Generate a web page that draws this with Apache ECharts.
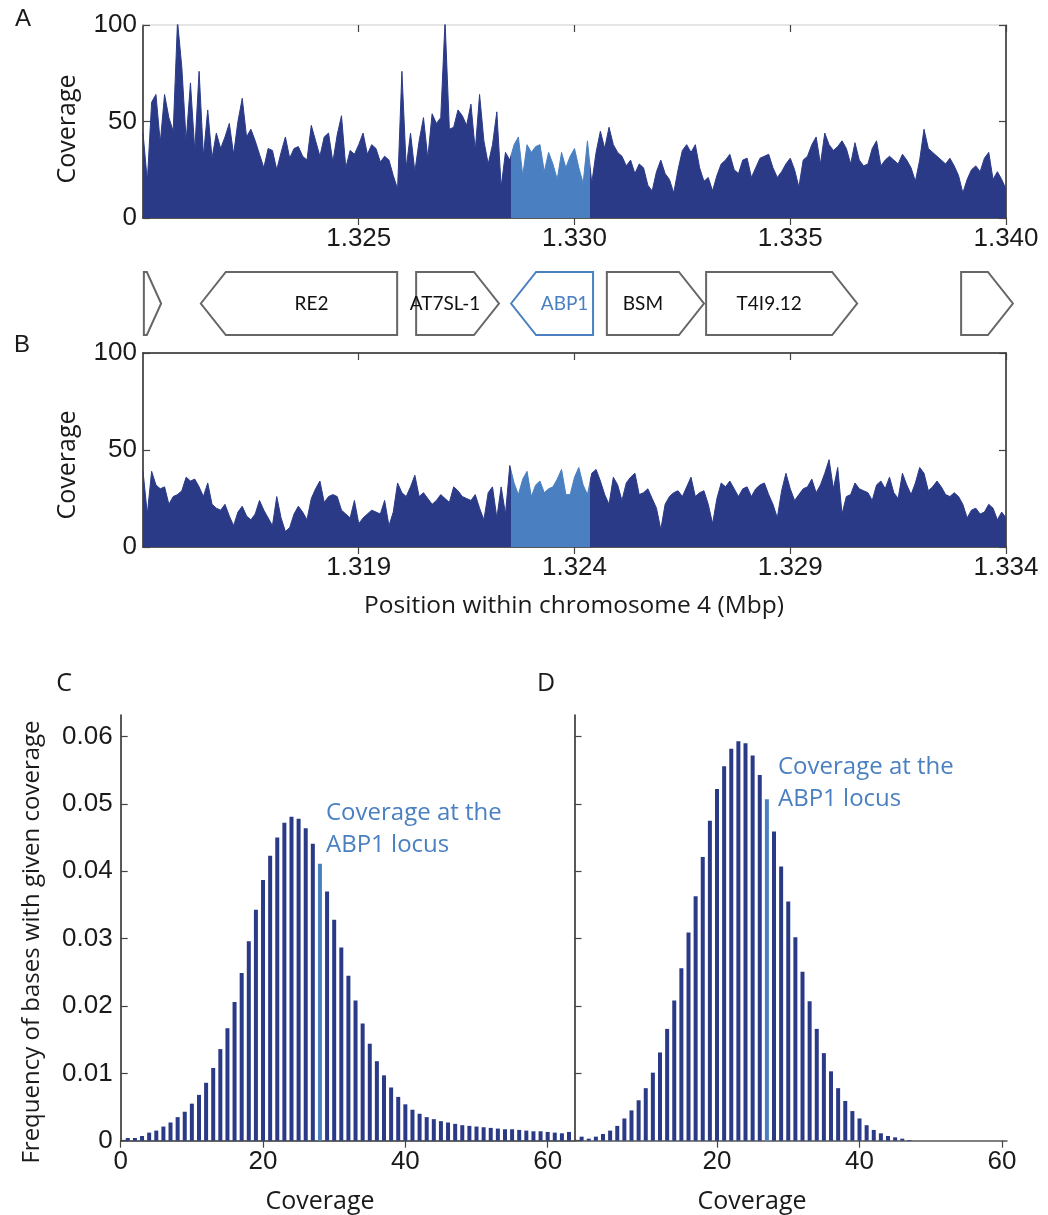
<!DOCTYPE html>
<html>
<head>
<meta charset="utf-8">
<title>ABP1 coverage</title>
<script src="https://cdn.jsdelivr.net/npm/echarts@6/dist/echarts.min.js"></script>
<style>
html,body{margin:0;padding:0;background:#fff}
#main{width:1048px;height:1215px}
</style>
</head>
<body>
<div id="main"></div>
<script>
// ---- data ----
// A: coverage along chr4 1.320-1.340 Mbp, one reading every 100 bp
var startA = 1.320, stepA = 0.0001;
var covA = [44,19,60,64,39,64,52,45,102,78,
  40,70,35,76,32,56,31,44,36,42,
  49,33,50,62,42,46,40,33,26,36,
  35,25,34,42,31,36,37,32,30,48,
  40,32,42,44,29,43,53,26,35,33,
  38,44,33,38,36,29,32,30,22,15,
  76,26,44,24,40,52,31,54,49,52,
  102,46,47,56,53,48,59,35,64,40,
  28,38,55,16,34,30,38,42,22,38,
  34,37,38,24,34,28,20,34,26,32,
  36,26,18,40,18,34,45,36,47,38,
  34,32,27,30,23,28,26,17,14,24,
  30,23,20,13,25,35,38,34,38,26,
  19,21,14,22,28,30,33,25,23,30,
  31,21,26,31,32,33,26,21,24,28,
  31,25,16,30,32,38,42,28,44,38,
  35,37,40,36,28,39,30,27,28,36,
  40,27,30,32,30,28,33,30,26,19,
  30,46,36,34,32,30,28,31,27,22,
  13,20,25,27,24,31,34,20,24,20,15];
// B: same locus, other alignment, 1.314-1.334 Mbp
var startB = 1.314, stepB = 0.0001;
var covB = [39,17,39,32,30,31,22,26,27,29,
  36,34,35,31,26,33,22,20,19,22,
  16,11,18,21,16,14,17,24,19,15,
  11,26,15,8,10,17,21,18,14,25,
  30,34,23,26,27,26,19,17,15,24,
  12,15,17,19,18,17,24,11,18,33,
  28,26,31,37,26,28,25,22,24,27,
  25,23,31,29,26,25,24,27,20,14,
  28,31,15,31,17,42,33,27,35,39,
  26,32,34,28,30,31,35,40,27,27,
  36,41,32,27,38,40,34,27,22,36,
  32,24,33,36,38,27,28,30,25,20,
  9,22,26,28,29,26,31,36,26,28,
  29,22,12,25,33,31,34,30,26,30,
  31,26,30,32,33,27,22,15,29,38,
  30,24,27,30,31,35,28,32,38,45,
  30,41,17,26,27,33,30,29,28,24,
  32,34,30,36,28,25,38,32,27,33,
  41,38,29,31,34,31,27,26,28,26,
  22,15,19,20,17,18,22,20,14,18,15];
// ABP1 locus in each coordinate frame (Mbp)
var abpA = [1.32853, 1.33036];
var abpB = [1.32253, 1.32436];
var ticksA = [1.325, 1.330, 1.335, 1.340];
var ticksB = [1.319, 1.324, 1.329, 1.334];

// gene track (frame of panel A)
var geneNames  = ['', 'RE2', 'AT7SL-1', 'ABP1', 'BSM', 'T4I9.12', ''];
var geneStart  = [1.32002, 1.32134, 1.32633, 1.32853, 1.33075, 1.33305, 1.33896];
var geneEnd    = [1.32042, 1.32589, 1.32825, 1.33043, 1.33300, 1.33655, 1.34016];
var geneStrand = [1, -1, 1, -1, 1, 1, 1];

// C, D: frequency of bases with coverage 1,2,3...
var freqC = [0.0004,0.0004,0.0007,0.0012,0.0015,0.0021,0.0027,0.0035,0.0043,0.0055,
  0.0068,0.0086,0.0108,0.0136,0.0167,0.0206,0.0249,0.0296,0.0343,0.0387,
  0.0423,0.0450,0.0472,0.0481,0.0478,0.0464,0.0441,0.0411,0.0370,0.0328,
  0.0287,0.0245,0.0208,0.0174,0.0144,0.0118,0.0097,0.0079,0.0065,0.0054,
  0.0046,0.0040,0.0035,0.0032,0.0029,0.0027,0.0025,0.0023,0.0022,0.0021,
  0.0020,0.0019,0.0018,0.0017,0.0017,0.0016,0.0015,0.0014,0.0014,0.0013,
  0.0012,0.0011,0.0013];
var freqD = [0.0006,0.0003,0.0006,0.0010,0.0015,0.0022,0.0033,0.0045,0.0060,0.0078,
  0.0101,0.0131,0.0166,0.0208,0.0256,0.0309,0.0363,0.0421,0.0475,0.0522,
  0.0556,0.0582,0.0593,0.0590,0.0572,0.0543,0.0507,0.0459,0.0407,0.0355,
  0.0302,0.0251,0.0207,0.0166,0.0130,0.0103,0.0078,0.0059,0.0044,0.0033,
  0.0023,0.0016,0.0011,0.0007,0.0005,0.0003,0.0001];
var locusC = 28, locusD = 27;
var freqTicks = [0, 0.01, 0.02, 0.03, 0.04, 0.05, 0.06];

// ---- styles ----
var DARK = '#2a3a87', LIGHT = '#4a80c1', GREY = '#666', INK = '#1a1a1a';
var NUM = 'Liberation Sans', SANS = 'Open Sans';

function track(start, step, vals) {
  return vals.map(function (v, i) { return [start + i * step, v]; });
}
function bars(vals, locus) {
  return vals.map(function (v, i) {
    return { value: [i + 1, v], itemStyle: { color: i + 1 === locus ? LIGHT : DARK } };
  });
}
function xAx(grid, min, max, ticks, pos, opts) {
  opts = opts || {};
  return {
    type: 'value', gridIndex: grid, min: min, max: max, position: pos,
    show: opts.hidden ? false : true,
    axisLine: { onZero: false, lineStyle: { color: opts.lineColor || '#222', width: 1.5 } },
    axisTick: { show: true, inside: pos === 'top', length: 7, customValues: ticks,
      lineStyle: { color: '#444', width: 1.2 } },
    axisLabel: { show: !!opts.labels, customValues: ticks, margin: 8,
      fontFamily: NUM, fontSize: 26, color: INK, formatter: opts.fmt },
    splitLine: { show: false }
  };
}
function yAx(grid, min, max, ticks, pos, opts) {
  opts = opts || {};
  return {
    type: 'value', gridIndex: grid, min: min, max: max, position: pos,
    show: opts.hidden ? false : true,
    axisLine: { show: true, onZero: false, lineStyle: { color: '#222', width: 1.5 } },
    axisTick: { show: true, inside: true, length: 7, customValues: ticks,
      lineStyle: { color: '#444', width: 1.2 } },
    axisLabel: { show: !!opts.labels, customValues: ticks, margin: opts.margin || 6,
      fontFamily: NUM, fontSize: 26, color: INK, formatter: opts.fmt },
    splitLine: { show: false }
  };
}
var mbp = function (v) { return v.toFixed(3); };
var freqFmt = function (v) { return v === 0 ? '0' : v.toFixed(2); };

function renderGene(params, api) {
  var s = api.coord([api.value(0), 0])[0];
  var e = api.coord([api.value(1), 0])[0];
  var cs = params.coordSys;
  var y0 = cs.y, y1 = cs.y + cs.height, ym = (y0 + y1) / 2;
  var head = Math.min(25, e - s - 3);
  var fwd = api.value(2) > 0;
  var pts = fwd
    ? [[s, y0], [e - head, y0], [e, ym], [e - head, y1], [s, y1]]
    : [[s, ym], [s + head, y0], [e, y0], [e, y1], [s + head, y1]];
  var name = geneNames[params.dataIndex];
  var hl = name === 'ABP1';
  var cx = fwd ? (s + e - head) / 2 : (s + head + e) / 2;
  return {
    type: 'group',
    children: [
      { type: 'polygon', shape: { points: pts },
        style: { fill: '#fff', stroke: hl ? LIGHT : GREY, lineWidth: 2 } },
      { type: 'text', x: cx, y: ym,
        style: { text: name, fill: hl ? LIGHT : '#111', font: '19px Lato',
          align: 'center', verticalAlign: 'middle' } }
    ]
  };
}

function label(txt, x, y, size, family, rot, color) {
  return { type: 'text', x: x, y: y, rotation: rot || 0,
    style: { text: txt, font: size + 'px "' + family + '"', fill: color || INK,
      align: 'center', verticalAlign: 'middle', lineHeight: 32 } };
}

var chart = echarts.init(document.getElementById('main'), null, { renderer: 'canvas' });
chart.setOption({
  animation: false,
  backgroundColor: '#fff',
  grid: [
    { left: 143, top: 25, width: 863, height: 193, outerBoundsMode: 'none' },
    { left: 143, top: 272, width: 863, height: 63, outerBoundsMode: 'none' },
    { left: 143, top: 353, width: 863, height: 194, outerBoundsMode: 'none' },
    { left: 120.7, top: 715, width: 453.3, height: 425.7, outerBoundsMode: 'none' },
    { left: 574.5, top: 715, width: 432.5, height: 425.7, outerBoundsMode: 'none' }
  ],
  xAxis: [
    xAx(0, 1.320, 1.340, ticksA, 'bottom', { labels: true, fmt: mbp }),
    xAx(0, 1.320, 1.340, ticksA, 'top', { lineColor: '#ddd' }),
    xAx(1, 1.320, 1.340, [], 'bottom', { hidden: true }),
    xAx(2, 1.314, 1.334, ticksB, 'bottom', { labels: true, fmt: mbp }),
    xAx(2, 1.314, 1.334, ticksB, 'top', {}),
    xAx(3, 0, 63.7, [0, 20, 40, 60], 'bottom', { labels: true, lineColor: '#333' }),
    xAx(4, 0, 60.7, [20, 40, 60], 'bottom', { labels: true, lineColor: '#555' })
  ],
  yAxis: [
    yAx(0, 0, 100, [0, 50, 100], 'left', { labels: true }),
    yAx(0, 0, 100, [0, 50, 100], 'right', {}),
    yAx(1, 0, 1, [], 'left', { hidden: true }),
    yAx(2, 0, 100, [0, 50, 100], 'left', { labels: true }),
    yAx(2, 0, 100, [0, 50, 100], 'right', {}),
    yAx(3, 0, 0.0632, freqTicks, 'left', { labels: true, fmt: freqFmt, margin: 8 }),
    yAx(4, 0, 0.0632, freqTicks, 'left', {})
  ],
  visualMap: [
    { type: 'piecewise', show: false, seriesIndex: 0, dimension: 0,
      pieces: [{ lt: abpA[0], color: DARK }, { gte: abpA[0], lte: abpA[1], color: LIGHT }, { gt: abpA[1], color: DARK }] },
    { type: 'piecewise', show: false, seriesIndex: 2, dimension: 0,
      pieces: [{ lt: abpB[0], color: DARK }, { gte: abpB[0], lte: abpB[1], color: LIGHT }, { gt: abpB[1], color: DARK }] }
  ],
  series: [
    { type: 'line', xAxisIndex: 0, yAxisIndex: 0, data: track(startA, stepA, covA),
      symbol: 'none', sampling: 'none', lineStyle: { width: 1 }, areaStyle: { opacity: 1 } },
    { type: 'custom', xAxisIndex: 2, yAxisIndex: 2, clip: false, renderItem: renderGene,
      data: geneStart.map(function (s, i) { return [s, geneEnd[i], geneStrand[i]]; }) },
    { type: 'line', xAxisIndex: 3, yAxisIndex: 3, data: track(startB, stepB, covB),
      symbol: 'none', sampling: 'none', lineStyle: { width: 1 }, areaStyle: { opacity: 1 } },
    { type: 'bar', xAxisIndex: 5, yAxisIndex: 5, barWidth: 4, data: bars(freqC, locusC) },
    { type: 'bar', xAxisIndex: 6, yAxisIndex: 6, barWidth: 4, data: bars(freqD, locusD) }
  ],
  graphic: [
    label('A', 23, 19, 24, NUM),
    label('B', 22, 345, 24, NUM),
    label('C', 64, 684, 25, SANS),
    label('D', 546, 684, 25, SANS),
    label('Coverage', 68, 129, 25, SANS, Math.PI / 2),
    label('Coverage', 68, 465, 25, SANS, Math.PI / 2),
    label('Position within chromosome 4 (Mbp)', 574, 606, 24.5, SANS),
    label('Frequency of bases with given coverage', 32, 942, 24, SANS, Math.PI / 2),
    label('Coverage', 320, 1202, 25, SANS),
    label('Coverage', 752, 1202, 25, SANS),
    { type: 'text', x: 326, y: 797,
      style: { text: 'Coverage at the\nABP1 locus', font: '24px "Open Sans"', fill: LIGHT,
        align: 'left', verticalAlign: 'top', lineHeight: 32 } },
    { type: 'text', x: 778, y: 751,
      style: { text: 'Coverage at the\nABP1 locus', font: '24px "Open Sans"', fill: LIGHT,
        align: 'left', verticalAlign: 'top', lineHeight: 32 } }
  ]
});
</script>
</body>
</html>
